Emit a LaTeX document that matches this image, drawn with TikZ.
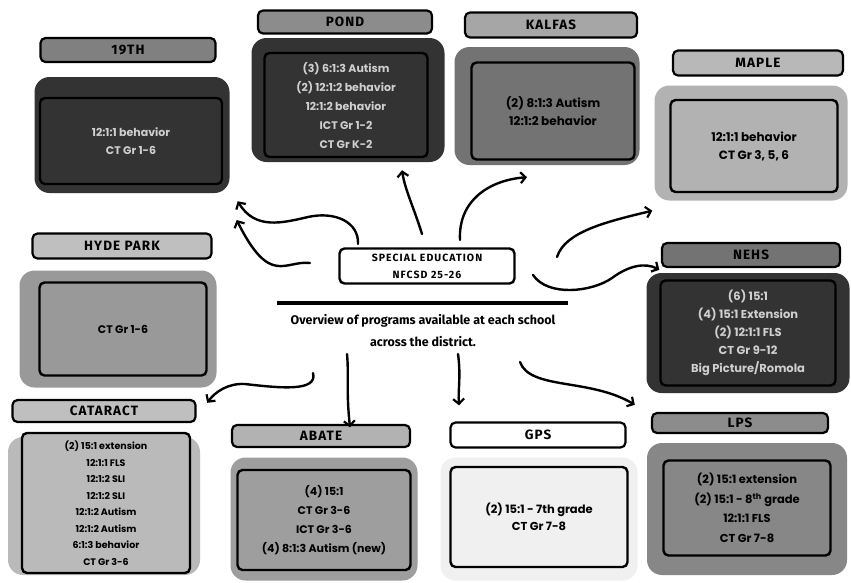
\documentclass[tikz,border=0pt]{standalone}
\usepackage{fontspec}
\setmainfont{Poppins}
\newfontfamily\handfont[LetterSpace=8]{Fira Sans}
\newfontfamily\headfont[LetterSpace=10]{Fira Sans}
\newfontfamily\notefont{Fira Sans}
\usetikzlibrary{arrows.meta}
\definecolor{darkcard}{HTML}{333333}
\definecolor{lighttext}{HTML}{CFCFCF}
\tikzset{
  flowarrow/.style={-{Straight Barb[length=5pt,width=11pt,line width=2.2pt]}, line width=2.4pt, line cap=round},
  titlepill/.style={draw, rounded corners=5pt, line width=2.2pt, inner sep=0pt, font=\handfont\bfseries\fontsize{13.5}{14}\selectfont},
  cardouter/.style={rounded corners=15pt, inner sep=0pt},
  cardinner/.style={draw, rounded corners=5pt, line width=2.4pt, align=center, inner sep=0pt, font=\bfseries\fontsize{11}{18}\selectfont},
  headbox/.style={draw, rounded corners=5pt, line width=2.4pt, fill=white, align=center, inner sep=0pt, font=\headfont\bfseries\fontsize{10.5}{17}\selectfont},
  overview/.style={align=center, font=\notefont\bfseries\fontsize{12.5}{22}\selectfont}
}
\begin{document}
\begin{tikzpicture}[x=1pt, y=-1pt]
  \useasboundingbox (0,0) rectangle (851,582);
  \fill[white] (0,0) rectangle (851,582);

  % centre
  \node[headbox, minimum width=175pt, minimum height=35pt] (head) at (427,266) {SPECIAL EDUCATION\\NFCSD 25-26};
  \draw[line width=4pt] (277,303) coordinate (barL) -- (568,303) coordinate (barR);
  \node[overview] (note) at (423,331) {Overview of programs available at each school\\across the district.};

  % 19TH
  \node[cardouter, fill=darkcard, minimum width=195pt, minimum height=116pt] (o19) at (132,135) {};
  \node[cardinner, fill=darkcard, text=lighttext, minimum width=182pt, minimum height=86pt] (c19) at (131,141) {12:1:1 behavior\\CT Gr 1-6};
  \node[titlepill, fill=black!50, minimum width=175pt, minimum height=24pt] (t19) at (128,50) {19TH};

  % POND
  \node[cardouter, fill=darkcard, minimum width=193pt, minimum height=124pt] (opond) at (348,100) {};
  \node[cardinner, fill=darkcard, text=lighttext, minimum width=163pt, minimum height=104pt, font=\bfseries\fontsize{11}{19}\selectfont] (cpond) at (346,105) {(3) 6:1:3 Autism\\(2) 12:1:2 behavior\\12:1:2 behavior\\ICT Gr 1-2\\CT Gr K-2};
  \node[titlepill, fill=black!45, minimum width=174pt, minimum height=23pt] (tpond) at (345,22) {POND};

  % KALFAS
  \node[cardouter, fill=black!55, minimum width=185pt, minimum height=118pt] (okal) at (547,106) {};
  \node[cardinner, fill=black!55, minimum width=163pt, minimum height=97pt, font=\bfseries\fontsize{12}{18}\selectfont] (ckal) at (553,111) {(2) 8:1:3 Autism\\12:1:2 behavior};
  \node[titlepill, fill=black!35, minimum width=172pt, minimum height=25pt] (tkal) at (551,25) {KALFAS};

  % MAPLE
  \node[cardouter, fill=black!30, minimum width=193pt, minimum height=115pt] (omaple) at (751,143) {};
  \node[cardinner, fill=black!30, minimum width=167pt, minimum height=92pt, font=\bfseries\fontsize{12}{18}\selectfont] (cmaple) at (754,146) {12:1:1 behavior\\CT Gr 3, 5, 6};
  \node[titlepill, fill=black!28, minimum width=170pt, minimum height=25pt] (tmaple) at (758,63) {MAPLE};

  % NEHS
  \node[cardouter, fill=darkcard, minimum width=203pt, minimum height=120pt] (onehs) at (748,333) {};
  \node[cardinner, fill=darkcard, text=lighttext, minimum width=175pt, minimum height=105pt, font=\bfseries\fontsize{11.5}{18}\selectfont] (cnehs) at (748,333) {(6) 15:1\\(4) 15:1 Extension\\(2) 12:1:1 FLS\\CT Gr 9-12\\Big Picture/Romola};
  \node[titlepill, fill=black!55, minimum width=178pt, minimum height=24pt] (tnehs) at (751,255) {NEHS};

  % HYDE PARK
  \node[cardouter, fill=black!40, minimum width=197pt, minimum height=117pt] (ohyde) at (118,329) {};
  \node[cardinner, fill=black!40, minimum width=167pt, minimum height=93pt] (chyde) at (123,329) {CT Gr 1-6};
  \node[titlepill, fill=black!25, minimum width=179pt, minimum height=25pt] (thyde) at (122,246) {HYDE PARK};

  % CATARACT
  \node[cardouter, fill=black!27, minimum width=192pt, minimum height=138pt] (ocat) at (104,506) {};
  \node[cardinner, fill=black!27, minimum width=168pt, minimum height=140pt, font=\bfseries\fontsize{9.5}{16.5}\selectfont] (ccat) at (106,503) {(2) 15:1 extension\\12:1:1 FLS\\12:1:2 SLI\\12:1:2 SLI\\12:1:2 Autism\\12:1:2 Autism\\6:1:3 behavior\\CT Gr 3-6};
  \node[titlepill, fill=black!25, minimum width=183pt, minimum height=22pt] (tcat) at (104,411) {CATARACT};

  % ABATE
  \node[cardouter, fill=black!38, minimum width=187pt, minimum height=123pt] (oabate) at (324,519) {};
  \node[cardinner, fill=black!38, minimum width=173pt, minimum height=100pt, font=\bfseries\fontsize{11}{19}\selectfont] (cabate) at (324,520) {(4) 15:1\\CT Gr 3-6\\ICT Gr 3-6\\(4) 8:1:3 Autism (new)};
  \node[titlepill, fill=black!30, minimum width=178pt, minimum height=22pt] (tabate) at (321,436) {ABATE};

  % GPS
  \node[cardouter, fill=black!6, minimum width=197pt, minimum height=123pt] (ogps) at (539,519) {};
  \node[cardinner, fill=black!6, minimum width=177pt, minimum height=100pt, font=\bfseries\fontsize{11.5}{17}\selectfont] (cgps) at (539,517) {(2) 15:1 - 7th grade\\CT Gr 7-8};
  \node[titlepill, fill=white, minimum width=175pt, minimum height=25pt] (tgps) at (538,435) {GPS};

  % LPS
  \node[cardouter, fill=black!47, minimum width=200pt, minimum height=132pt] (olps) at (747,509) {};
  \node[cardinner, fill=black!47, minimum width=167pt, minimum height=95pt, font=\bfseries\fontsize{11.5}{19.5}\selectfont] (clps) at (747,508) {(2) 15:1 extension\\(2) 15:1 - 8\textsuperscript{th} grade\\12:1:1 FLS\\CT Gr 7-8};
  \node[titlepill, fill=black!45, minimum width=176pt, minimum height=20pt] (tlps) at (740,423) {LPS};

  % arrows
  \coordinate (a19) at (358,244);
  \coordinate (apond) at (422,234);
  \coordinate (akal) at (460,240);
  \coordinate (amaple) at (557,257);
  \coordinate (anehs) at (533,275);
  \coordinate (ahyde) at (310,263);
  \coordinate (acat) at (313,373);
  \coordinate (aabate) at (347,354);
  \coordinate (agps) at (458,354);
  \coordinate (alps) at (520,362);
  \draw[flowarrow] (a19) .. controls (359,222) and (335,211) .. (308,217) .. controls (282,223) and (255,230) .. ([shift={(8,8)}]o19.south east);
  \draw[flowarrow] (apond) .. controls (414,208) and (405,190) .. ([shift={(54,8)}]opond.south);
  \draw[flowarrow] (akal) .. controls (458,200) and (490,180) .. ([shift={(-20,12)}]okal.south);
  \draw[flowarrow] (amaple) .. controls (565,232) and (605,222) .. ([shift={(-2,10)}]omaple.south west);
  \draw[flowarrow] (anehs) .. controls (548,297) and (592,292) .. (612,278) .. controls (628,266) and (645,262) .. ([shift={(13,-3)}]onehs.north west);
  \draw[flowarrow] (ahyde) .. controls (285,260) and (270,287) .. ([shift={(20,-109)}]ohyde.east);
  \draw[flowarrow] (acat) .. controls (318,392) and (280,388) .. (245,384) .. controls (228,383) and (215,392) .. ([shift={(7,-34)}]ocat.north east);
  \draw[flowarrow] (aabate) .. controls (349,375) and (346,390) .. ([shift={(26,-30)}]oabate.north);
  \draw[flowarrow] (agps) .. controls (461,375) and (458,390) .. ([shift={(-80,-52)}]ogps.north);
  \draw[flowarrow] (alps) .. controls (530,390) and (590,378) .. ([shift={(-12,-38)}]olps.north west);
\end{tikzpicture}
\end{document}
